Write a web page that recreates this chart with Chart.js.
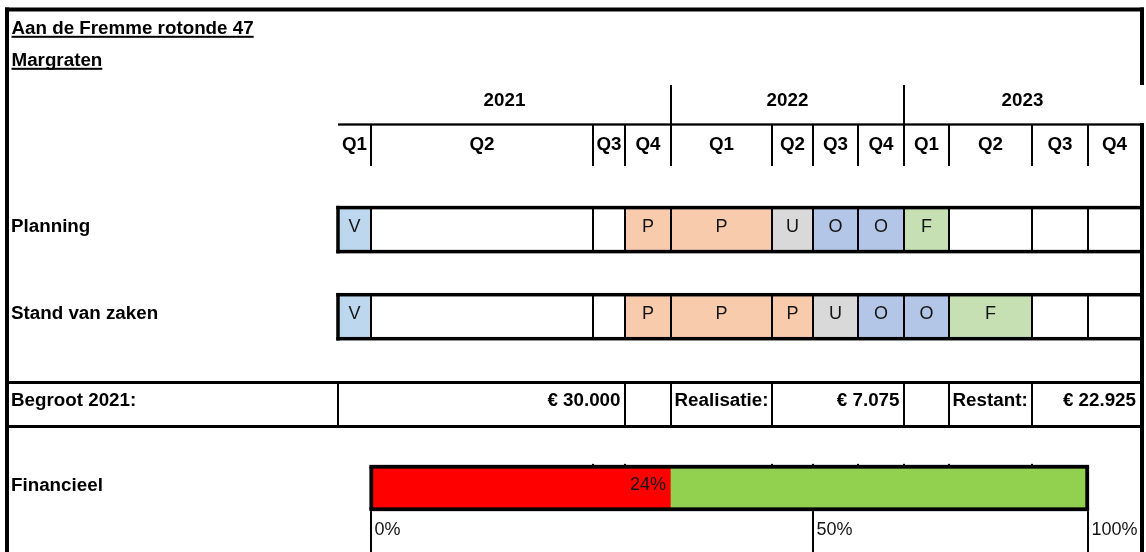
<!DOCTYPE html>
<html>
<head>
<meta charset="utf-8">
<script src="https://cdn.jsdelivr.net/npm/chart.js@4/dist/chart.umd.min.js"></script>
<style>
html,body{margin:0;padding:0;background:#fff;}
#wrap{width:1146px;height:552px;position:relative;}
canvas{display:block;}
</style>
</head>
<body>
<div id="wrap"><canvas id="c" width="1146" height="552"></canvas></div>
<script>
// ---------------- DATA ----------------
const titleText = 'Aan de Fremme rotonde 47';
const subtitleText = 'Margraten';
const years = ['2021', '2022', '2023'];
const quarterLabels = ['Q1','Q2','Q3','Q4','Q1','Q2','Q3','Q4','Q1','Q2','Q3','Q4'];
const rowLabels = ['Planning', 'Stand van zaken'];
const planning      = ['V','','','P','P','U','O','O','F','','',''];
const standVanZaken = ['V','','','P','P','P','U','O','O','F','',''];
const budgetLabels = ['Begroot 2021:', 'Realisatie:', 'Restant:'];
const budgetValues = [30000, 7075, 22925];
const financieelLabel = 'Financieel';
const financieelPct = 24;
const financieelTickLabels = ['0%', '50%', '100%'];
// progress bar parts, in quarter columns
const financieelRood  = [1, 4];
const financieelGroen = [4, 11];

// ---------------- LAYOUT / STYLE ----------------
const colWidths = [33, 222, 32, 46, 101, 41, 45, 46, 45, 83, 56, 53]; // spreadsheet column widths
const edges = [0];
colWidths.forEach(w => edges.push(edges[edges.length - 1] + w));
const totalW = edges[edges.length - 1];
const LAYOUT = {
  left: 338, right: 5,
  rowY: [229.6, 316.7], rowBoxH: 44,
  finY: 488, finBoxH: 42.5,
  finTickCols: [1, 6, 11],
  budgetCells: [ {label: 'left', value: [0, 3]}, {label: 4, value: [5, 8]}, {label: 9, value: [10, 12]} ],
  budgetDividers: [0, 3, 4, 5, 8, 9, 10]
};
const statusColors = { V: '#BDD7EE', P: '#F8CBAD', U: '#D9D9D9', O: '#B4C6E7', F: '#C6E0B4' };
const FONT_B = 'bold 18.8px "Liberation Sans", Arial, Helvetica, sans-serif';
const FONT_R = '18px "Liberation Sans", Arial, Helvetica, sans-serif';

function fmtEuro(v) {
  return '€ ' + String(v).replace(/\B(?=(\d{3})+(?!\d))/g, '.');
}

// bars built from the data arrays
const bars = [];
[planning, standVanZaken].forEach((row, r) => {
  row.forEach((s, i) => bars.push({ x: [edges[i], edges[i + 1]], y: LAYOUT.rowY[r], color: statusColors[s] || '#ffffff' }));
});
bars.push({ x: [edges[financieelRood[0]], edges[financieelRood[1]]], y: LAYOUT.finY, color: '#FF0000' });
bars.push({ x: [edges[financieelGroen[0]], edges[financieelGroen[1]]], y: LAYOUT.finY, color: '#92D050' });

const sheetPlugin = {
  id: 'sheet',
  beforeDraw(chart) {
    const ctx = chart.ctx;
    ctx.save();
    ctx.fillStyle = '#ffffff';
    ctx.fillRect(0, 0, chart.width, chart.height);
    ctx.restore();
  },
  afterDatasetsDraw(chart) {
    const ctx = chart.ctx;
    const xs = chart.scales.x, ys = chart.scales.y;
    const px = i => xs.getPixelForValue(edges[i]);
    const H = chart.height;
    const frameR = 1142;
    const vline = (x, y1, y2, w) => ctx.fillRect(x - w / 2, y1, w, y2 - y1);
    const hline = (y, x1, x2, w) => ctx.fillRect(x1, y - w / 2, x2 - x1, w);
    const text = (t, x, y, font, align) => { ctx.font = font; ctx.textAlign = align || 'left'; ctx.fillText(t, x, y); };
    ctx.save();
    ctx.fillStyle = '#000';
    ctx.textBaseline = 'alphabetic';

    // outer frame
    hline(9.5, 5, frameR + 2, 4);
    vline(7, 7.5, H, 4);
    vline(frameR, 7.5, 85, 4);
    vline(frameR, 123, H, 4);

    // title + underline
    text(titleText, 11.5, 33.5, FONT_B);
    ctx.fillRect(11.5, 35.8, ctx.measureText(titleText).width, 2);
    text(subtitleText, 11.5, 65.5, FONT_B);
    ctx.fillRect(11.5, 67.8, ctx.measureText(subtitleText).width, 2);

    // header: years
    years.forEach((y, j) => {
      const cx = xs.getPixelForValue((edges[j * 4] + edges[j * 4 + 4]) / 2);
      text(y, cx, 106, FONT_B, 'center');
    });
    vline(px(4), 85, 166, 2);
    vline(px(8), 85, 166, 2);
    hline(124.5, px(0), frameR, 2.3);
    for (let i = 1; i < 12; i++) vline(px(i), 124, 166, 2);
    quarterLabels.forEach((q, i) => {
      const cx = xs.getPixelForValue((edges[i] + edges[i + 1]) / 2);
      text(q, cx, 149.5, FONT_B, 'center');
    });

    // gantt rows
    [planning, standVanZaken].forEach((row, r) => {
      const cy = ys.getPixelForValue(LAYOUT.rowY[r]);
      const top = cy - LAYOUT.rowBoxH / 2, bot = cy + LAYOUT.rowBoxH / 2;
      for (let i = 1; i < 12; i++) vline(px(i), top, bot, 2);
      hline(top, px(0) - 1.75, frameR, 3.5);
      hline(bot, px(0) - 1.75, frameR, 3.5);
      vline(px(0), top - 1.75, bot + 1.75, 3.5);
      text(rowLabels[r], 11, cy + 2, FONT_B);
      ctx.fillStyle = '#141414';
      row.forEach((s, i) => {
        if (!s) return;
        const cx = xs.getPixelForValue((edges[i] + edges[i + 1]) / 2);
        text(s, cx, cy + 2, FONT_R, 'center');
      });
      ctx.fillStyle = '#000';
    });

    // budget row
    const bTop = 382.5, bBot = 426.5;
    hline(bTop, 5, frameR + 2, 3);
    hline(bBot, 5, frameR + 2, 3);
    LAYOUT.budgetDividers.forEach(i => vline(px(i), bTop, bBot, 2));
    const bBase = 406;
    LAYOUT.budgetCells.forEach((c, k) => {
      if (c.label === 'left') text(budgetLabels[k], 11, bBase, FONT_B);
      else text(budgetLabels[k], px(c.label) + 3.5, bBase, FONT_B);
      const right = c.value[1] === 12 ? px(12) - 5 : px(c.value[1]) - 4.5;
      text(fmtEuro(budgetValues[k]), right, bBase, FONT_B, 'right');
    });

    // financieel
    const fy = ys.getPixelForValue(LAYOUT.finY);
    const fTop = fy - LAYOUT.finBoxH / 2, fBot = fy + LAYOUT.finBoxH / 2;
    text(financieelLabel, 11, fy + 2.5, FONT_B);
    const fl = px(financieelRood[0]) + 0.3, fr = px(financieelGroen[1]) - 0.8;
    const lw = 3.8;
    hline(fTop, fl - lw / 2, fr + lw / 2, lw);
    hline(fBot, fl - lw / 2, fr + lw / 2, lw);
    vline(fl, fTop, fBot, lw);
    vline(fr, fTop, fBot, lw);
    [2, 3, 5, 6, 7, 8, 9, 10].forEach(i => ctx.fillRect(px(i) - 1, fTop - lw / 2 - 1, 2, 1.5));
    ctx.fillStyle = '#141414';
    text(financieelPct + '%', px(financieelRood[1]) - 5, fy + 2, FONT_R, 'right');
    ctx.fillStyle = '#000';
    LAYOUT.finTickCols.forEach((c, k) => {
      vline(px(c), fBot + lw / 2, H, 2);
      ctx.fillStyle = '#141414';
      text(financieelTickLabels[k], px(c) + 3.5, 535, FONT_R);
      ctx.fillStyle = '#000';
    });
    ctx.restore();
  }
};

new Chart(document.getElementById('c'), {
  type: 'bar',
  data: {
    datasets: [{
      data: bars.map(b => ({ x: b.x, y: b.y })),
      backgroundColor: bars.map(b => b.color),
      borderWidth: 0,
      barThickness: 42
    }]
  },
  options: {
    indexAxis: 'y',
    responsive: false,
    animation: false,
    events: [],
    devicePixelRatio: 1,
    layout: { autoPadding: false, padding: { left: LAYOUT.left, right: LAYOUT.right, top: 0, bottom: 0 } },
    scales: {
      x: { type: 'linear', min: 0, max: totalW, display: false, offset: false },
      y: { type: 'linear', min: 0, max: 552, reverse: true, display: false, offset: false }
    },
    plugins: { legend: { display: false }, tooltip: { enabled: false }, title: { display: false } }
  },
  plugins: [sheetPlugin]
});
</script>
</body>
</html>
